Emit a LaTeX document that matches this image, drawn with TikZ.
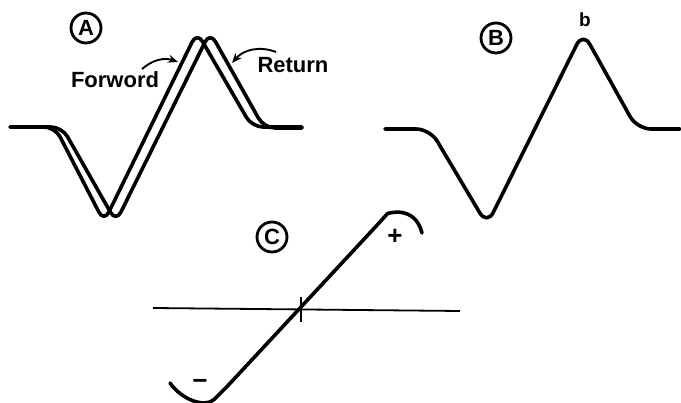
\documentclass[tikz,border=0pt]{standalone}
\usepackage{fontspec}
\setmainfont{Liberation Sans}
\usetikzlibrary{arrows.meta}
\tikzset{
    trace/.style={line width=3.6pt, rounded corners=11pt, line join=round, line cap=round},
    axis/.style={line width=1.8pt},
    tag/.style={circle, draw, line width=2.8pt, minimum size=30pt, inner sep=0pt,
                font=\fontsize{22}{22}\selectfont\bfseries},
    lbl/.style={font=\fontsize{22}{22}\selectfont\bfseries, inner sep=1pt},
    pointer/.style={-{Stealth[length=10pt,width=8pt]}, line width=1.9pt},
}

\begin{document}
\begin{tikzpicture}[x=1pt, y=-1pt]
    \useasboundingbox (0,0) rectangle (681,403);
    % panel A: forward and return traces
    \node[tag] (tagA) at (86,28) {A};
    \draw[trace] (10,127) -- (55,127) -- (104,222) -- (197,32) -- (252,127) -- (302,127);
    \draw[trace] (40,127) -- (62,127) -- (116,222) -- (210,32) -- (264,128) -- (302,128);
    \node[lbl] (fwd) at (115,80) {Forword};
    \node[lbl] (ret) at (293,65) {Return};
    \coordinate (fwdtail) at (142,69);
    \coordinate (fwdhit) at (178,62);
    \coordinate (rettail) at (276,52);
    \coordinate (rethit) at (232,63);
    \draw[pointer] (fwdtail) to[bend left=30] (fwdhit);
    \draw[pointer] (rettail) to[bend right=35] (rethit);

    % panel B
    \node[tag] (tagB) at (496,38) {B};
    \draw[trace, rounded corners=14pt] (385,129) -- (430,129) -- (487,225) -- (583,32) -- (637,129) -- (680,129);
    \node[lbl, font=\fontsize{19}{19}\selectfont\bfseries] (peakb) at (585,20) {b};

    % panel C
    \node[tag] (tagC) at (272,237) {C};
    \draw[axis] (153,308) -- (460,311);
    \draw[axis] (301,297) -- (301,322);
    \draw[trace] (170,383) .. controls (182,400) and (205,408) .. (222,392)
        -- (380,222) .. controls (388,213) and (415,205) .. (422,233);
    \node[lbl, font=\fontsize{26}{26}\selectfont\bfseries] (plus) at (395,237) {+};
    \node[lbl, font=\fontsize{26}{26}\selectfont\bfseries] (minus) at (200,384) {−};
\end{tikzpicture}
\end{document}
